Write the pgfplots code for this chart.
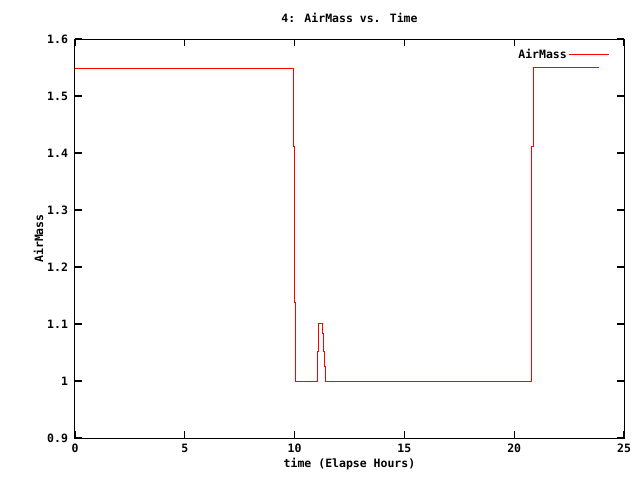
\documentclass[border=0pt]{standalone}
\usepackage{pgfplots}
\pgfplotsset{compat=1.18}
\usepackage{fontspec}
\setmainfont{DejaVu Sans Mono}
\begin{document}
\fontsize{11.5}{13}\selectfont\bfseries
\begin{tikzpicture}
\begin{axis}[
  scale only axis,
  width=549pt, height=399pt,
  xmin=0, xmax=25, ymin=0.9, ymax=1.6,
  xtick={0,5,10,15,20,25},
  ytick={0.9,1.0,1.1,1.2,1.3,1.4,1.5,1.6},
  yticklabel style={/pgf/number format/fixed,/pgf/number format/precision=1},
  /pgf/number format/assume math mode=true,
  tick align=inside,
  major tick length=7pt,
  every tick/.style={black, line width=1.2pt},
  axis line style={line width=1pt},
  tick label style={font=\fontsize{11.5}{13}\selectfont\bfseries},
  xticklabel style={yshift=-2pt},
  yticklabel style={xshift=-3pt},
  label style={font=\fontsize{11.5}{13}\selectfont\bfseries},
  title style={font=\fontsize{11.5}{13}\selectfont\bfseries, yshift=6pt},
  title={4: AirMass vs. Time},
  xlabel={time (Elapse Hours)},
  ylabel={AirMass},
  xlabel style={yshift=2pt},
  ylabel style={yshift=-4pt},
  legend style={draw=none, fill=none, at={(0.98,0.985)}, anchor=north east, font=\fontsize{11.5}{13}\selectfont\bfseries},
  legend plot pos=right,
  legend cell align=right,
  legend image code/.code={\path (0pt,0pt) -- (40pt,0pt); \draw[#1] (8pt,0pt) -- (40pt,0pt);},
]
\addplot[red, line width=1pt] coordinates {
(0,1.549) (9.94,1.549) (9.94,1.411) (9.99,1.411) (9.99,1.137) (10.03,1.137)
(10.03,1.0) (11.03,1.0) (11.03,1.051) (11.09,1.051) (11.09,1.101) (11.26,1.101)
(11.26,1.084) (11.32,1.084) (11.32,1.051) (11.37,1.051) (11.37,1.026) (11.41,1.026)
(11.41,1.0) (20.78,1.0) (20.78,1.137) (20.81,1.137) (20.81,1.412) (20.86,1.412)
(20.86,1.550) (23.86,1.550)
};
\addlegendentry{AirMass}
\end{axis}
\path (current axis.south west) ++(-75pt,-42pt) rectangle ++(640pt,480pt);
\end{tikzpicture}
\end{document}
